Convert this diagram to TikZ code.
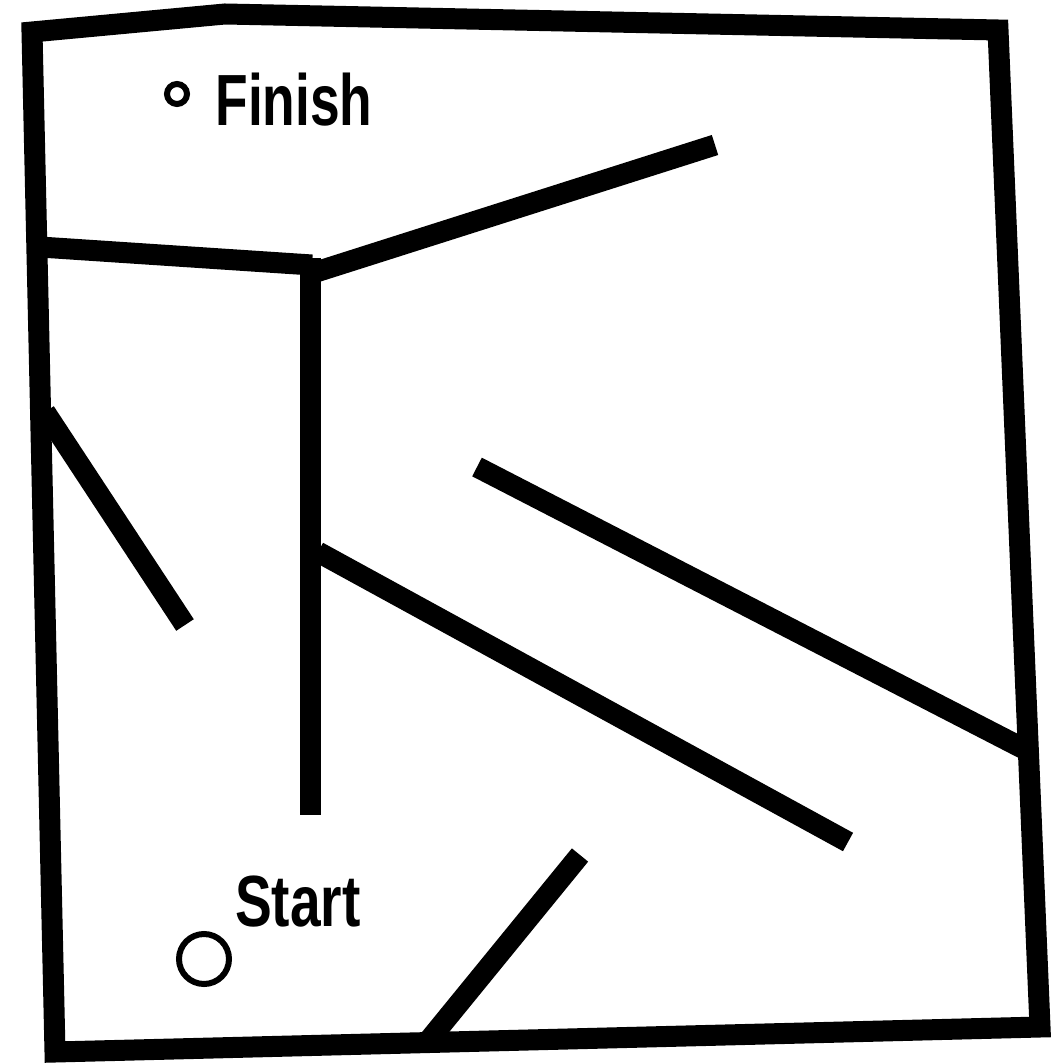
\documentclass[tikz,border=0pt]{standalone}
\usepackage{fontspec}
\setmainfont{Liberation Sans}
\begin{document}
\begin{tikzpicture}[x=1pt,y=-1pt,
  wall/.style={line width=21pt,black,line join=miter},
  mark circ/.style={line width=6pt,black},
  hand/.style={font=\fontsize{58}{58}\selectfont\bfseries,inner sep=0pt,anchor=center}]
\useasboundingbox[fill=white] (0,0) rectangle (1053,1064);
% outer border
\draw[wall] (32,32) -- (225,14) -- (998,30) -- (1040,1027) -- (55,1052) -- cycle;
% inner walls
\coordinate (j1) at (310,258);
\draw[wall] (40,247) -- (312,265);
\draw[wall] (j1) -- (310,815);
\draw[wall] (316,272) -- (715,145);
\draw[wall] (45,412) -- (185,625);
\draw[wall] (318,552) -- (848,842);
\draw[wall] (477,467) -- (1030,752);
\draw[wall] (580,855) -- (425,1045);
% markers
\draw[mark circ] (177,94) circle[radius=10];
\draw[mark circ] (204,959) circle[radius=25];
\node[hand,xscale=0.92,yscale=1.25] (finish) at (294,100) {Finish};
\node[hand,xscale=0.95,yscale=1.25] (start) at (298,902) {Start};
\end{tikzpicture}
\end{document}
